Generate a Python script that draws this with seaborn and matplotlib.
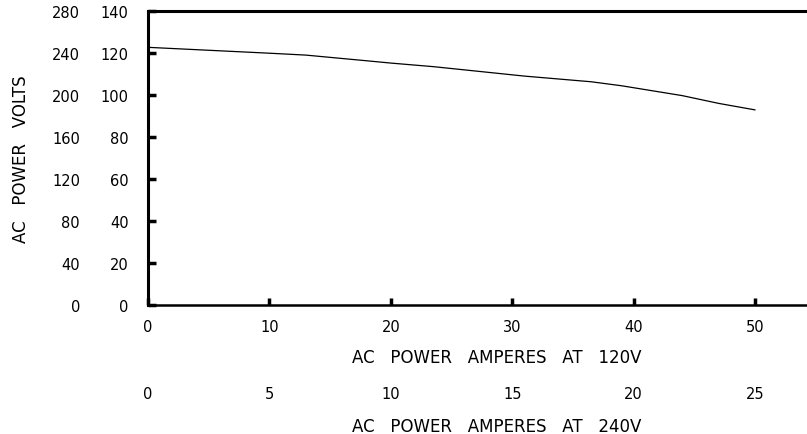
import numpy as np
import pandas as pd
import seaborn as sns
import matplotlib.pyplot as plt
import matplotlib.ticker as ticker

# values
amps_120 = [0, 5, 10, 13, 18, 20, 23.5, 28.5, 31, 36.5, 39, 44, 47, 50]
volts = [122.7, 121.3, 119.9, 119.0, 116.3, 115.2, 113.5, 110.5, 109.0, 106.3, 104.4, 99.7, 96.0, 92.9]
x_ticks = [0, 10, 20, 30, 40, 50]
x_ticks_240 = [0, 5, 10, 15, 20, 25]
y_ticks = [0, 20, 40, 60, 80, 100, 120, 140]
y_ticks_240 = [0, 40, 80, 120, 160, 200, 240, 280]

df = pd.DataFrame({"amps": amps_120, "volts": volts})

sns.set_style("white")
plt.rcParams["font.family"] = ["DejaVu Sans"]
plt.rcParams["text.color"] = "black"
plt.rcParams["axes.labelcolor"] = "black"

fig = plt.figure(figsize=(8.07, 4.35), dpi=100)
# the drawing is cropped on the right: the axes run past the figure edge
ax = fig.add_axes([148 / 807, 129 / 435, 697 / 807, 294 / 435])

g = sns.lineplot(data=df, x="amps", y="volts", color="black", linewidth=0.9, ax=ax)
g.set_xlim(0, 57.4)
g.set_ylim(0, 140)
g.xaxis.set_major_locator(ticker.FixedLocator(x_ticks))
g.yaxis.set_major_locator(ticker.FixedLocator(y_ticks))

for side in ["left", "top"]:
    ax.spines[side].set_linewidth(2.2)
ax.spines["bottom"].set_linewidth(1.8)
ax.spines["right"].set_visible(False)
for s in ax.spines.values():
    s.set_color("black")

ax.tick_params(axis="y", left=True, direction="in", length=6, width=2.5, pad=14,
               labelsize=10.5, colors="black")
ax.tick_params(axis="x", bottom=True, direction="in", length=5, width=2.5, pad=10,
               labelsize=10.5, colors="black")
ax.set_xlabel("AC   POWER   AMPERES   AT   120V", fontsize=12, labelpad=10.4)
ax.set_ylabel("AC   POWER   VOLTS", fontsize=12, labelpad=51)

# second scale for 240V service (amps halved)
sec_x = ax.secondary_xaxis(-0.228, functions=(lambda x: x / 2, lambda x: x * 2))
sec_x.xaxis.set_major_locator(ticker.FixedLocator(x_ticks_240))
sec_x.spines["bottom"].set_visible(False)
sec_x.tick_params(length=0, pad=10, labelsize=10.5, colors="black")
sec_x.set_xlabel("AC   POWER   AMPERES   AT   240V", fontsize=12, labelpad=11.5)

# second scale for 240V volts (doubled)
sec_y = ax.secondary_yaxis("left", functions=(lambda y: y * 2, lambda y: y / 2))
sec_y.yaxis.set_major_locator(ticker.FixedLocator(y_ticks_240))
sec_y.spines["left"].set_visible(False)
sec_y.tick_params(length=0, pad=49, labelsize=10.5, colors="black")

plt.savefig("out.png", dpi=100)
